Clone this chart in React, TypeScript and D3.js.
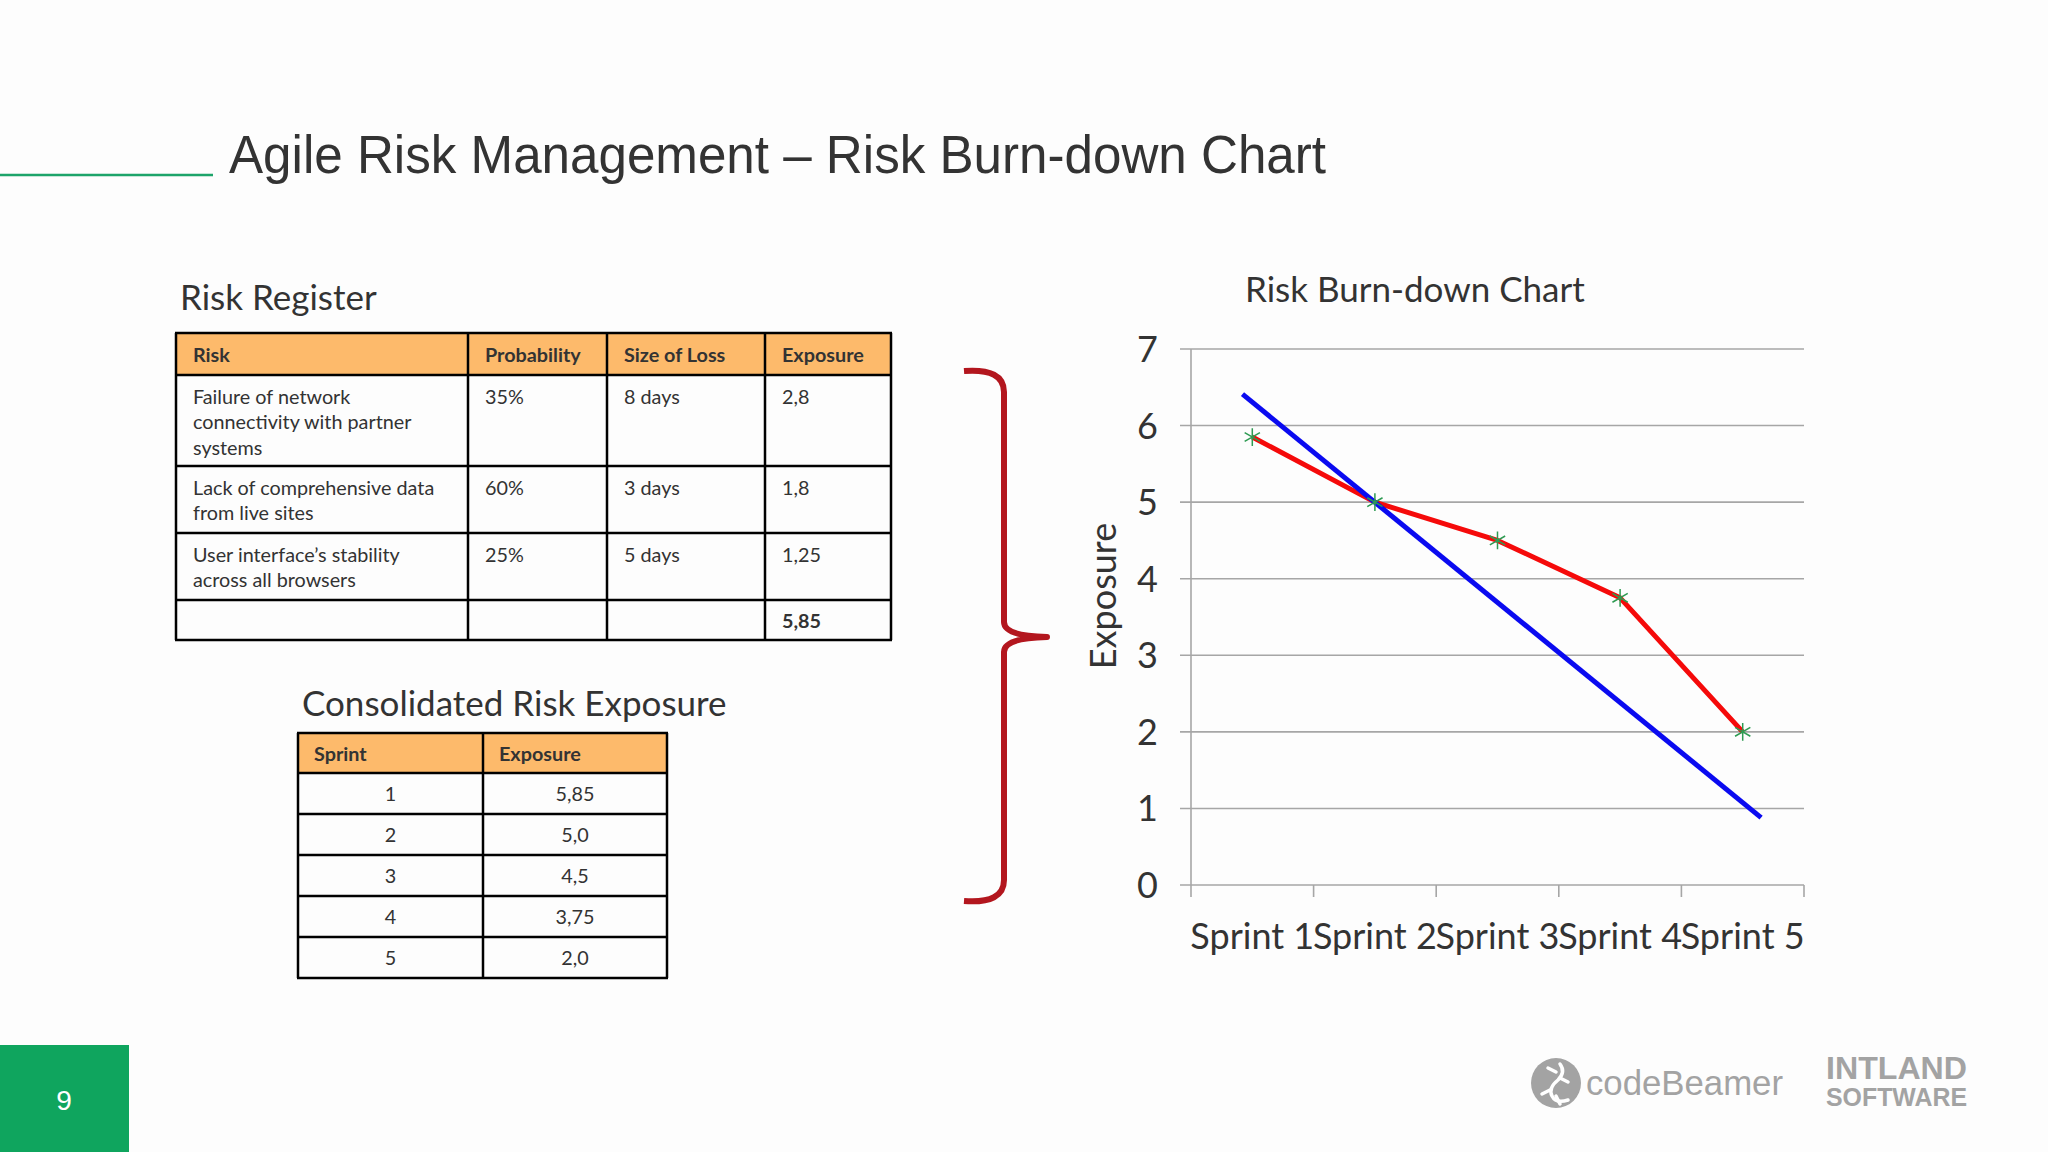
import React from "react";
import * as d3 from "d3";

// ---------- data ----------
const slideTitle = "Agile Risk Management \u2013 Risk Burn-down Chart";
const registerTitle = "Risk Register";
const registerHeaders = ["Risk", "Probability", "Size of Loss", "Exposure"];
const riskNames = [
  ["Failure of network", "connectivity with partner", "systems"],
  ["Lack of comprehensive data", "from live sites"],
  ["User interface\u2019s stability", "across all browsers"],
];
const riskProbabilities = ["35%", "60%", "25%"];
const riskSizes = ["8 days", "3 days", "5 days"];
const riskExposures = ["2,8", "1,8", "1,25"];
const riskTotal = "5,85";

const consolidatedTitle = "Consolidated Risk Exposure";
const consolidatedHeaders = ["Sprint", "Exposure"];
const sprintNumbers = ["1", "2", "3", "4", "5"];
const sprintExposureLabels = ["5,85", "5,0", "4,5", "3,75", "2,0"];

const chartTitle = "Risk Burn-down Chart";
const sprintLabels = ["Sprint 1", "Sprint 2", "Sprint 3", "Sprint 4", "Sprint 5"];
const sprintExposure = [5.85, 5.0, 4.5, 3.75, 2.0];
const yTicks = [0, 1, 2, 3, 4, 5, 6, 7];
const yAxisTitle = "Exposure";
// ideal burn-down line (sprint position, exposure)
const idealLine = [
  { s: 0.92, v: 6.41 },
  { s: 5.15, v: 0.88 },
];

const pageNumber = "9";

// ---------- layout ----------
const W = 2048;
const H = 1152;
const FONT = "Lato, 'Open Sans', sans-serif";
const ARIAL = "'Liberation Sans', Arial, sans-serif";
const ORANGE = "#FDBA6B";
const TXT = "#333333";
const TFS = 19.8;

function RiskRegister() {
  const x0 = 176;
  const colX = [176, 468, 607, 765, 891];
  const rowY = [333, 375, 466, 533, 600, 640];
  const pad = 17;
  const lh = 25.5;
  return (
    <g>
      <text x={180} y={310} fontFamily={FONT} fontSize={35} fill={TXT}>
        {registerTitle}
      </text>
      <rect x={x0} y={rowY[0]} width={colX[4] - x0} height={rowY[1] - rowY[0]} fill={ORANGE} />
      {registerHeaders.map((h, i) => (
        <text key={h} x={colX[i] + pad} y={362} fontFamily={FONT} fontWeight={700} fontSize={TFS} fill={TXT}>
          {h}
        </text>
      ))}
      {riskNames.map((lines, r) => (
        <g key={r}>
          {lines.map((ln, k) => (
            <text key={k} x={colX[0] + pad} y={rowY[r + 1] + 28.5 + k * lh} fontFamily={FONT} fontSize={TFS} fill={TXT}>
              {ln}
            </text>
          ))}
          {[riskProbabilities[r], riskSizes[r], riskExposures[r]].map((v, c) => (
            <text key={c} x={colX[c + 1] + pad} y={rowY[r + 1] + 28.5} fontFamily={FONT} fontSize={TFS} fill={TXT}>
              {v}
            </text>
          ))}
        </g>
      ))}
      <text x={colX[3] + pad} y={rowY[4] + 28} fontFamily={FONT} fontWeight={700} fontSize={TFS} fill={TXT}>
        {riskTotal}
      </text>
      {rowY.map((y, i) => (
        <line key={"h" + i} x1={x0 - 1} x2={colX[4] + 1} y1={y} y2={y} stroke="#000" strokeWidth={2.5} />
      ))}
      {colX.map((x, i) => (
        <line key={"v" + i} x1={x} x2={x} y1={rowY[0]} y2={rowY[5]} stroke="#000" strokeWidth={2.5} />
      ))}
    </g>
  );
}

function Consolidated() {
  const colX = [298, 483, 667];
  const top = 733;
  const headB = 773;
  const rowH = (978 - headB) / sprintNumbers.length;
  const rowY = [top, ...sprintNumbers.map((_, i) => headB + i * rowH), 978];
  return (
    <g>
      <text x={302} y={716} fontFamily={FONT} fontSize={35} fill={TXT}>
        {consolidatedTitle}
      </text>
      <rect x={colX[0]} y={top} width={colX[2] - colX[0]} height={headB - top} fill={ORANGE} />
      {consolidatedHeaders.map((h, i) => (
        <text key={h} x={colX[i] + 16} y={761} fontFamily={FONT} fontWeight={700} fontSize={TFS} fill={TXT}>
          {h}
        </text>
      ))}
      {sprintNumbers.map((s, i) => (
        <g key={s}>
          <text x={(colX[0] + colX[1]) / 2} y={headB + i * rowH + 28} textAnchor="middle" fontFamily={FONT} fontSize={TFS} fill={TXT}>
            {s}
          </text>
          <text x={(colX[1] + colX[2]) / 2} y={headB + i * rowH + 28} textAnchor="middle" fontFamily={FONT} fontSize={TFS} fill={TXT}>
            {sprintExposureLabels[i]}
          </text>
        </g>
      ))}
      {rowY.map((y, i) => (
        <line key={"h" + i} x1={colX[0] - 1} x2={colX[2] + 1} y1={y} y2={y} stroke="#000" strokeWidth={2.5} />
      ))}
      {colX.map((x, i) => (
        <line key={"v" + i} x1={x} x2={x} y1={top} y2={978} stroke="#000" strokeWidth={2.5} />
      ))}
    </g>
  );
}

function Brace() {
  const p =
    "M964,371 Q1004,368 1004,392 L1004,622 Q1004,636 1047,637 Q1004,638 1004,652 L1004,880 Q1004,904 964,901";
  return <path d={p} fill="none" stroke="#B3161E" strokeWidth={6} strokeLinejoin="round" />;
}

function Chart() {
  const left = 1191;
  const right = 1804;
  const x = d3.scaleBand<string>().domain(sprintLabels).range([left, right]).padding(0);
  const xs = d3.scaleLinear().domain([0.5, 5.5]).range([left, right]);
  const y = d3.scaleLinear().domain([0, 7]).range([885, 349]);
  const redLine = d3
    .line<number>()
    .x((_, i) => (x(sprintLabels[i]) as number) + x.bandwidth() / 2)
    .y((d) => y(d));
  const blueLine = d3
    .line<{ s: number; v: number }>()
    .x((d) => xs(d.s))
    .y((d) => y(d.v));
  const marker = d3.symbol().type(d3.symbolAsterisk).size(220);
  const bounds = [...sprintLabels.map((s) => x(s) as number), right];
  return (
    <g>
      <text x={1245} y={302} fontFamily={FONT} fontSize={35} fill={TXT}>
        {chartTitle}
      </text>
      {yTicks.map((t) => (
        <line key={t} x1={left - 11} x2={right} y1={y(t)} y2={y(t)} stroke="#A6A6A6" strokeWidth={1.6} />
      ))}
      <line x1={left} x2={left} y1={y(7)} y2={y(0)} stroke="#A6A6A6" strokeWidth={1.6} />
      {bounds.map((b, i) => (
        <line key={i} x1={b} x2={b} y1={y(0)} y2={y(0) + 12} stroke="#A6A6A6" strokeWidth={1.6} />
      ))}
      {yTicks.map((t) => (
        <text key={t} x={1158} y={y(t)} dy="0.36em" textAnchor="end" fontFamily={FONT} fontSize={36} fill={TXT}>
          {t}
        </text>
      ))}
      {sprintLabels.map((s) => (
        <text
          key={s}
          x={(x(s) as number) + x.bandwidth() / 2}
          y={949}
          textAnchor="middle"
          fontFamily={FONT}
          fontSize={36}
          fill={TXT}
        >
          {s}
        </text>
      ))}
      <text
        transform={`translate(1116,596) rotate(-90)`}
        textAnchor="middle"
        fontFamily={FONT}
        fontSize={36}
        fill={TXT}
      >
        {yAxisTitle}
      </text>
      <path d={redLine(sprintExposure) as string} fill="none" stroke="#F50A0A" strokeWidth={5} strokeLinejoin="round" />
      <path d={blueLine(idealLine) as string} fill="none" stroke="#0A0AF0" strokeWidth={5} />
      {sprintExposure.map((v, i) => (
        <path
          key={i}
          d={marker() as string}
          transform={`translate(${(x(sprintLabels[i]) as number) + x.bandwidth() / 2},${y(v)})`}
          fill="none"
          stroke="#2E9B52"
          strokeWidth={1.5}
        />
      ))}
    </g>
  );
}

function Footer() {
  return (
    <g>
      <rect x={0} y={1045} width={129} height={H - 1045} fill="#0FA55E" />
      <text x={64} y={1110} textAnchor="middle" fontFamily={ARIAL} fontSize={28} fill="#ffffff">
        {pageNumber}
      </text>
      <circle cx={1556} cy={1083} r={25} fill="#A3A3A3" />
      <g fill="none" stroke="#ffffff" strokeWidth={3.5} strokeLinecap="round">
        <path d="M1560,1064 Q1566,1072 1558,1080 Q1548,1088 1552,1096 Q1556,1104 1568,1100" />
        <path d="M1556,1072 L1548,1068" />
        <path d="M1560,1078 L1568,1082" />
        <path d="M1550,1090 L1542,1094" />
        <path d="M1556,1096 L1560,1104" />
      </g>
      <text x={1586} y={1095} fontFamily={ARIAL} fontSize={35} fill="#A3A3A3" textLength={197} lengthAdjust="spacingAndGlyphs">
        codeBeamer
      </text>
      <text x={1826} y={1079} fontFamily={ARIAL} fontWeight={700} fontSize={32} fill="#A3A3A3" textLength={141} lengthAdjust="spacingAndGlyphs">
        INTLAND
      </text>
      <text x={1826} y={1106} fontFamily={ARIAL} fontWeight={700} fontSize={25} fill="#A3A3A3" textLength={141} lengthAdjust="spacingAndGlyphs">
        SOFTWARE
      </text>
    </g>
  );
}

export default function App() {
  return (
    <svg
      width={W}
      height={H}
      viewBox={`0 0 ${W} ${H}`}
      style={{ position: "absolute", left: 0, top: 0, background: "#FDFDFD" }}
    >
      <rect x={0} y={0} width={W} height={H} fill="#FDFDFD" />
      <line x1={0} x2={213} y1={175} y2={175} stroke="#1DA46A" strokeWidth={2.5} />
      <text x={229} y={173} fontFamily={ARIAL} fontSize={54} fill="#333333" textLength={1097} lengthAdjust="spacingAndGlyphs">
        {slideTitle}
      </text>
      <RiskRegister />
      <Consolidated />
      <Brace />
      <Chart />
      <Footer />
    </svg>
  );
}
